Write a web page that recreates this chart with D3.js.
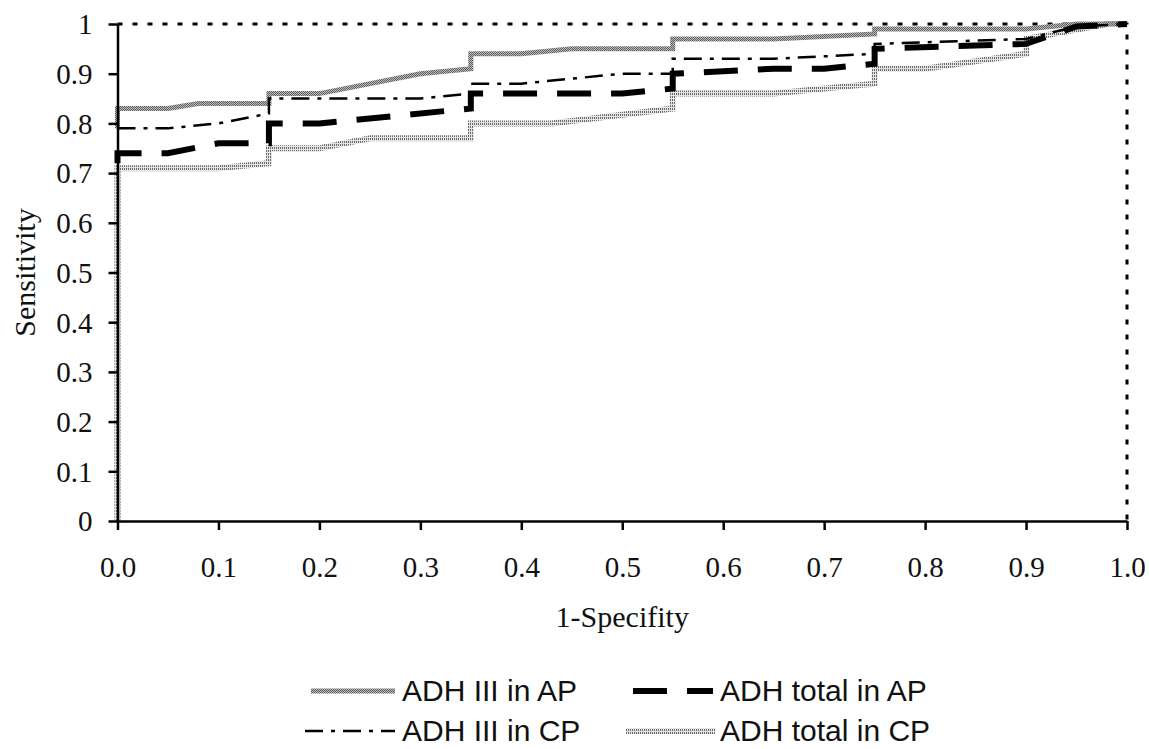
<!DOCTYPE html>
<html>
<head>
<meta charset="utf-8">
<script src="https://cdn.jsdelivr.net/npm/d3@7"></script>
<style>
  html, body { margin: 0; padding: 0; background: #fff; }
  svg { display: block; }
  .tick text { font-family: "Liberation Serif", "Times New Roman", serif; font-size: 29px; fill: #111; }
  .title { font-family: "Liberation Serif", "Times New Roman", serif; font-size: 30px; fill: #111; }
  .legend text { font-family: "Liberation Sans", Arial, sans-serif; font-size: 30px; fill: #111; }
</style>
</head>
<body>
<svg id="chart" width="1149" height="749"></svg>
<script>
// ROC curves, points: [1-specificity, sensitivity]
const adhIIIinAP = [[0,0.79],[0,0.83],[0.05,0.83],[0.08,0.84],[0.15,0.84],[0.15,0.86],[0.2,0.86],[0.3,0.9],[0.35,0.91],
  [0.35,0.94],[0.4,0.94],[0.45,0.95],[0.55,0.95],[0.55,0.97],[0.65,0.97],[0.75,0.98],[0.75,0.99],[0.9,0.99],[0.95,1],[1,1]];
const adhIIIinCP = [[0,0.79],[0.05,0.79],[0.1,0.8],[0.15,0.82],[0.15,0.85],[0.3,0.85],[0.35,0.86],[0.35,0.88],
  [0.4,0.88],[0.5,0.9],[0.55,0.9],[0.55,0.93],[0.65,0.93],[0.75,0.94],[0.75,0.96],[0.9,0.97],[0.95,0.995],[1,1]];
const adhTotalInAP = [[0,0.72],[0,0.74],[0.05,0.74],[0.1,0.76],[0.15,0.76],[0.15,0.8],[0.2,0.8],[0.35,0.83],[0.35,0.86],
  [0.5,0.86],[0.55,0.87],[0.55,0.9],[0.65,0.91],[0.7,0.91],[0.75,0.92],[0.75,0.95],[0.9,0.96],[0.95,0.995],[1,1]];
const adhTotalInCP = [[0,0],[0,0.71],[0.1,0.71],[0.15,0.72],[0.15,0.75],[0.2,0.75],[0.25,0.77],[0.35,0.77],[0.35,0.8],
  [0.43,0.8],[0.55,0.83],[0.55,0.86],[0.65,0.86],[0.75,0.88],[0.75,0.91],[0.8,0.91],[0.9,0.94],[0.9,0.97],[0.98,1],[1,1]];
// dotted frame on the top and right
const frameLine = [[0,1],[1,1],[1,0]];

const xTicks = [0,0.1,0.2,0.3,0.4,0.5,0.6,0.7,0.8,0.9,1];
const xTickLabels = ["0.0","0.1","0.2","0.3","0.4","0.5","0.6","0.7","0.8","0.9","1.0"];
const yTicks = [0,0.1,0.2,0.3,0.4,0.5,0.6,0.7,0.8,0.9,1];
const yTickLabels = ["0","0.1","0.2","0.3","0.4","0.5","0.6","0.7","0.8","0.9","1"];

const seriesNames = ["ADH III in AP","ADH total in AP","ADH III in CP","ADH total in CP"];

const svg = d3.select("#chart");
const plotLeft = 117.5, plotRight = 1127, plotTop = 24, plotBottom = 521;

const x = d3.scaleLinear().domain([0, 1]).range([plotLeft, plotRight]);
const y = d3.scaleLinear().domain([0, 1]).range([plotBottom, plotTop]);

// textures for the two grey lines
const defs = svg.append("defs");
const checker = defs.append("pattern").attr("id", "checker")
  .attr("patternUnits", "userSpaceOnUse").attr("width", 2).attr("height", 2);
checker.append("rect").attr("width", 2).attr("height", 2).attr("fill", "#bdbdbd");
checker.append("rect").attr("width", 1).attr("height", 1).attr("fill", "#5e5e5e");
checker.append("rect").attr("x", 1).attr("y", 1).attr("width", 1).attr("height", 1).attr("fill", "#5e5e5e");

const stripes = defs.append("pattern").attr("id", "stripes")
  .attr("patternUnits", "userSpaceOnUse").attr("width", 2).attr("height", 3);
stripes.append("rect").attr("width", 2).attr("height", 3).attr("fill", "#e4e4e4");
stripes.append("rect").attr("width", 1).attr("height", 2).attr("fill", "#6a6a6a");

const styles = {
  "ADH III in AP":   { data: adhIIIinAP,   stroke: "url(#checker)", width: 5, dash: null },
  "ADH total in AP": { data: adhTotalInAP, stroke: "#000", width: 6, dash: "34,20" },
  "ADH III in CP":   { data: adhIIIinCP,   stroke: "#000", width: 2.5, dash: "18,8,4,8" },
  "ADH total in CP": { data: adhTotalInCP, stroke: "url(#stripes)", width: 6, dash: null }
};

const line = d3.line().x(d => x(d[0])).y(d => y(d[1]));

// frame
svg.append("path").attr("d", line(frameLine))
  .attr("fill", "none").attr("stroke", "#000").attr("stroke-width", 3)
  .attr("stroke-dasharray", "5,10");

// curves
["ADH total in CP","ADH III in AP","ADH III in CP","ADH total in AP"].forEach(name => {
  const s = styles[name];
  svg.append("path").attr("d", line(s.data))
    .attr("fill", "none").attr("stroke", s.stroke)
    .attr("stroke-width", s.width)
    .attr("stroke-dasharray", s.dash);
});

// axes on top so the black axis lines stay visible
const xAxis = svg.append("g").attr("transform", "translate(0," + plotBottom + ")")
  .call(d3.axisBottom(x).tickValues(xTicks).tickSize(9).tickSizeOuter(0)
    .tickFormat((d, i) => xTickLabels[i]));
xAxis.selectAll("text").attr("y", 56).attr("dy", 0);

const yAxis = svg.append("g").attr("transform", "translate(" + plotLeft + ",0)")
  .call(d3.axisLeft(y).tickValues(yTicks).tickSize(9).tickSizeOuter(0)
    .tickFormat((d, i) => yTickLabels[i]));
yAxis.selectAll("text").attr("x", -25).attr("dy", "0.34em");

svg.selectAll(".domain").attr("stroke", "#000").attr("stroke-width", 2.5);
svg.selectAll(".tick line").attr("stroke", "#000").attr("stroke-width", 2.5);

// axis titles
svg.append("text").attr("class", "title")
  .attr("x", (plotLeft + plotRight) / 2).attr("y", 627)
  .attr("text-anchor", "middle").text("1-Specifity");
svg.append("text").attr("class", "title")
  .attr("transform", "translate(35," + (plotTop + plotBottom) / 2 + ") rotate(-90)")
  .attr("text-anchor", "middle").text("Sensitivity");

// legend
const legendPos = [
  { x1: 311, x2: 395, tx: 402, y: 691, base: 701 },
  { x1: 633, x2: 713, tx: 720, y: 691, base: 701 },
  { x1: 305, x2: 395, tx: 402, y: 731, base: 741 },
  { x1: 626, x2: 715, tx: 720, y: 731, base: 741 }
];
const legend = svg.append("g").attr("class", "legend");
seriesNames.forEach((name, i) => {
  const p = legendPos[i], s = styles[name];
  legend.append("line")
    .attr("x1", p.x1).attr("x2", p.x2).attr("y1", p.y).attr("y2", p.y)
    .attr("stroke", s.stroke).attr("stroke-width", s.width)
    .attr("stroke-dasharray", s.dash);
  legend.append("text").attr("x", p.tx).attr("y", p.base).text(name);
});
</script>
</body>
</html>
